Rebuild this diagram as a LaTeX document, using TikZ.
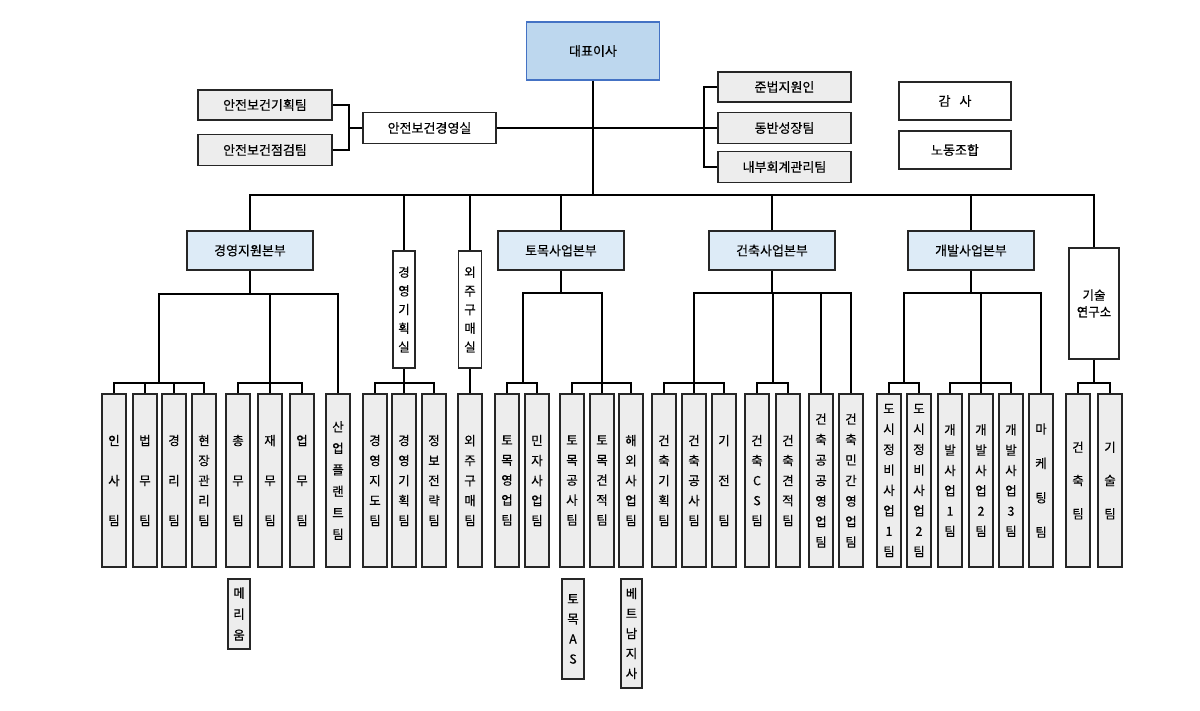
\documentclass[tikz,border=0pt]{standalone}
\usepackage{fontspec}
\setmainfont{Noto Sans CJK KR}[FakeBold=0.35]
\definecolor{boxgray}{HTML}{EDEDED}
\definecolor{divblue}{HTML}{DDEBF7}
\definecolor{ceoblue}{HTML}{BDD7EE}
\definecolor{ceoline}{HTML}{4472C4}
\tikzset{
  box/.style={draw=black!85, line width=1.3pt, inner sep=0pt, align=center, font=\fontsize{13}{15}\selectfont},
  gbox/.style={box, fill=boxgray},
  wbox/.style={box, fill=white},
  divbox/.style={box, fill=divblue, minimum width=126pt, minimum height=39pt},
  leaf/.style={gbox, minimum width=24pt, minimum height=173pt},
  ls/.style={font=\fontsize{12.5}{#1}\selectfont}, ls/.default=20.3,
  conn/.style={line width=1.3pt, draw=black}
}
\begin{document}
\begin{tikzpicture}[x=1pt, y=-1pt]
\useasboundingbox[fill=white] (0,0) rectangle (1200,710);

% ---- top level
\node[box, draw=ceoline, fill=ceoblue, line width=1.6pt, minimum width=133pt, minimum height=58pt] (ceo) at (593,51) {대표이사};
\node[wbox, minimum width=133pt, minimum height=31pt] (safety) at (429.5,128) {안전보건경영실};
\node[gbox, minimum width=134pt, minimum height=30pt] (plan) at (265,105) {안전보건기획팀};
\node[gbox, minimum width=134pt, minimum height=31pt] (check) at (265,150) {안전보건점검팀};
\node[gbox, minimum width=133pt, minimum height=30pt] (jun) at (784.5,87) {준법지원인};
\node[gbox, minimum width=133pt, minimum height=31pt] (dong) at (784.5,128) {동반성장팀};
\node[gbox, minimum width=133pt, minimum height=31pt] (intc) at (784.5,167) {내부회계관리팀};
\node[wbox, line width=1.7pt, minimum width=112pt, minimum height=38pt] (audit) at (955,101) {감\hspace{9pt}사};
\node[wbox, line width=1.7pt, minimum width=112pt, minimum height=38pt] (union) at (955,150) {노동조합};

% ---- second level
\node[divbox] (mgmt) at (250,250.5) {경영지원본부};
\node[wbox, minimum width=22pt, minimum height=117pt, ls=18.7] (mplan) at (404,309.5) {경\\영\\기\\획\\실};
\node[wbox, minimum width=23pt, minimum height=117pt, ls=18.7] (outs) at (470,309.5) {외\\주\\구\\매\\실};
\node[divbox] (civ) at (561,250.5) {토목사업본부};
\node[divbox] (arch) at (772,250.5) {건축사업본부};
\node[divbox] (dev) at (971,250.5) {개발사업본부};
\node[wbox, minimum width=50pt, minimum height=111pt, ls=16.7] (lab) at (1094,303.5) {기술\\연구소};

% ---- leaves
\node[leaf, ls=40] (l1) at (114,480.5) {인\\사\\팀};
\node[leaf, ls=40] (l2) at (145,480.5) {법\\무\\팀};
\node[leaf, ls=40] (l3) at (174,480.5) {경\\리\\팀};
\node[leaf, ls=20] (l4) at (204,480.5) {현\\장\\관\\리\\팀};
\node[leaf, ls=40] (l5) at (238,480.5) {총\\무\\팀};
\node[leaf, ls=40] (l6) at (270,480.5) {재\\무\\팀};
\node[leaf, ls=40] (l7) at (302,480.5) {업\\무\\팀};
\node[leaf, ls=21.5] (l8) at (338,480.5) {산\\업\\플\\랜\\트\\팀};
\node[leaf, ls=20] (l9) at (375,480.5) {경\\영\\지\\도\\팀};
\node[leaf, ls=20] (l10) at (404,480.5) {경\\영\\기\\획\\팀};
\node[leaf, ls=20] (l11) at (434,480.5) {정\\보\\전\\략\\팀};
\node[leaf, ls=20] (l12) at (470,480.5) {외\\주\\구\\매\\팀};
\node[leaf, ls=20] (l13) at (507,480.5) {토\\목\\영\\업\\팀};
\node[leaf, ls=20] (l14) at (537,480.5) {민\\자\\사\\업\\팀};
\node[leaf, ls=20] (l15) at (572,480.5) {토\\목\\공\\사\\팀};
\node[leaf, ls=20] (l16) at (602,480.5) {토\\목\\견\\적\\팀};
\node[leaf, ls=20] (l17) at (631,480.5) {해\\외\\사\\업\\팀};
\node[leaf, ls=20] (l18) at (664,480.5) {건\\축\\기\\획\\팀};
\node[leaf, ls=20] (l19) at (694,480.5) {건\\축\\공\\사\\팀};
\node[leaf, ls=40] (l20) at (724,480.5) {기\\전\\팀};
\node[leaf, ls=20] (l21) at (757,480.5) {건\\축\\C\\S\\팀};
\node[leaf, ls=20] (l22) at (788,480.5) {건\\축\\견\\적\\팀};
\node[leaf, ls=20.5] (l23) at (821,480.5) {건\\축\\공\\공\\영\\업\\팀};
\node[leaf, ls=20.5] (l24) at (851,480.5) {건\\축\\민\\간\\영\\업\\팀};
\node[leaf, ls=20.4] (l25) at (889,480.5) {도\\시\\정\\비\\사\\업\\1\\팀};
\node[leaf, ls=20.4] (l26) at (919,480.5) {도\\시\\정\\비\\사\\업\\2\\팀};
\node[leaf, ls=20.3] (l27) at (950,480.5) {개\\발\\사\\업\\1\\팀};
\node[leaf, ls=20.3] (l28) at (981,480.5) {개\\발\\사\\업\\2\\팀};
\node[leaf, ls=20.3] (l29) at (1011,480.5) {개\\발\\사\\업\\3\\팀};
\node[leaf, ls=34.4] (l30) at (1041,480.5) {마\\케\\팅\\팀};
\node[leaf, ls=33.3] (l31) at (1078,480.5) {건\\축\\팀};
\node[leaf, ls=33.3] (l32) at (1110,480.5) {기\\술\\팀};

% ---- extra boxes
\node[gbox, minimum width=22pt, minimum height=70pt, ls=21] (meri) at (239,614) {메\\리\\움};
\node[gbox, minimum width=22pt, minimum height=100pt, ls=20] (cas) at (573,629) {토\\목\\A\\S};
\node[gbox, minimum width=21pt, minimum height=109pt, ls=20] (viet) at (631.5,633.5) {베\\트\\남\\지\\사};

% ---- connector points
\coordinate (bus) at (593,195);
\coordinate (lb) at (349,128);
\coordinate (rb) at (704,128);
\coordinate (mb) at (250,294);
\coordinate (cb) at (561,293);
\coordinate (ab) at (772,293);
\coordinate (db) at (971,293);
\coordinate (g1) at (159,383);
\coordinate (g2) at (270,383);
\coordinate (g3) at (404,383);
\coordinate (g4) at (523,383);
\coordinate (g5) at (602,383);
\coordinate (g6) at (694,383);
\coordinate (g7) at (773,383);
\coordinate (g8) at (904,383);
\coordinate (g9) at (981,383);
\coordinate (g10) at (1094,383);

% ---- top connectors
\draw[conn] (ceo.south) -- (bus);
\draw[conn] (safety.east) -- (rb);
\draw[conn] (jun.west) -| (rb);
\draw[conn] (intc.west) -| (rb);
\draw[conn] (dong.west) -- (rb);
\draw[conn] (safety.west) -- (lb);
\draw[conn] (plan.east) -| (lb);
\draw[conn] (check.east) -| (lb);

\foreach \n in {mgmt,mplan,outs,civ,arch,dev,lab}
  \draw[conn] (\n.north) |- (bus);

% ---- management support
\draw[conn] (mgmt.south) -- (mb);
\draw[conn] (mb) -| (g1);
\draw[conn] (mb) -| (g2);
\draw[conn] (mb) -| (l8.north);
\foreach \n in {l1,l2,l3,l4} \draw[conn] (\n.north) |- (g1);
\foreach \n in {l5,l6,l7} \draw[conn] (\n.north) |- (g2);

% ---- planning / outsourcing
\draw[conn] (mplan.south) -- (g3);
\foreach \n in {l9,l10,l11} \draw[conn] (\n.north) |- (g3);
\draw[conn] (outs.south) -- (l12.north);

% ---- civil
\draw[conn] (civ.south) -- (cb);
\draw[conn] (cb) -| (g4);
\draw[conn] (cb) -| (g5);
\foreach \n in {l13,l14} \draw[conn] (\n.north) |- (g4);
\foreach \n in {l15,l16,l17} \draw[conn] (\n.north) |- (g5);

% ---- architecture
\draw[conn] (arch.south) -- (ab);
\draw[conn] (ab) -| (g6);
\draw[conn] (ab) -| (g7);
\draw[conn] (ab) -| (l23.north);
\draw[conn] (ab) -| (l24.north);
\foreach \n in {l18,l19,l20} \draw[conn] (\n.north) |- (g6);
\foreach \n in {l21,l22} \draw[conn] (\n.north) |- (g7);

% ---- development
\draw[conn] (dev.south) -- (db);
\draw[conn] (db) -| (g8);
\draw[conn] (db) -| (g9);
\draw[conn] (db) -| (l30.north);
\foreach \n in {l25,l26} \draw[conn] (\n.north) |- (g8);
\foreach \n in {l27,l28,l29} \draw[conn] (\n.north) |- (g9);

% ---- research lab
\draw[conn] (lab.south) -- (g10);
\foreach \n in {l31,l32} \draw[conn] (\n.north) |- (g10);
\end{tikzpicture}
\end{document}
